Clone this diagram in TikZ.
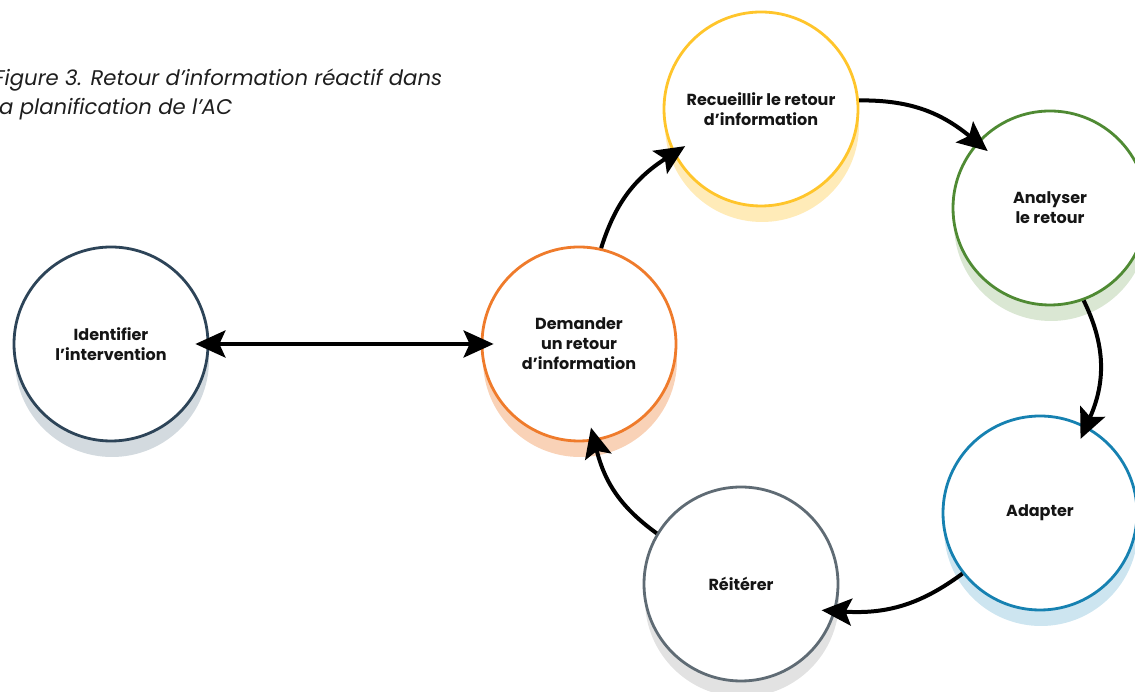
\documentclass[tikz,border=0pt]{standalone}
\usepackage{fontspec}
\setmainfont{Poppins}
\usetikzlibrary{arrows.meta,shadows}

\definecolor{identcol}{HTML}{2D4458}
\definecolor{identsh}{HTML}{D3DADF}
\definecolor{demandcol}{HTML}{EF7B2B}
\definecolor{demandsh}{HTML}{F9D2B7}
\definecolor{recueilcol}{HTML}{FFC52B}
\definecolor{recueilsh}{HTML}{FFEBB8}
\definecolor{analyscol}{HTML}{4F8A33}
\definecolor{analyssh}{HTML}{DAE7D3}
\definecolor{adaptcol}{HTML}{1681B1}
\definecolor{adaptsh}{HTML}{CDE5F0}
\definecolor{reitcol}{HTML}{5F6B74}
\definecolor{reitsh}{HTML}{E2E2E2}
\definecolor{textcol}{HTML}{151515}
\definecolor{captioncol}{HTML}{1E1E1E}

\begin{document}
\begin{tikzpicture}
      [x = 1pt, y = 1pt, line width = 4pt,
       stepnode/.style 2 args = {circle, draw = #1, fill = white, line width = 2.8pt,
         minimum size = 194pt, inner sep = 0pt, align = center, text = textcol,
         font = \fontsize{16}{20}\selectfont\bfseries,
         drop shadow = {shadow xshift = 1pt, shadow yshift = -16pt, fill = #2, opacity = 1}},
       link/.style = {-{Stealth[length = 30pt, width = 27pt, inset = 6pt]},
         shorten > = -14pt, bend left = 20}]
      \clip (0,0) rectangle (1135,692);
      % caption, cut at the left edge
      \node[anchor = base west, align = left, inner sep = 0pt, text = captioncol,
        font = \fontsize{21.2}{29}\selectfont\itshape] (caption) at (-8, 577)
        {Figure 3. Retour d’information réactif dans\\la planification de l’AC};
      \node[stepnode = {identcol}{identsh}] (ident) at (111, 348) {Identifier\\l’intervention};
      \node[stepnode = {demandcol}{demandsh}] (demand) at (579, 348) {Demander\\un retour\\d’information};
      \node[stepnode = {recueilcol}{recueilsh}] (recueil) at (761, 583) {Recueillir le retour\\d’information};
      \node[stepnode = {analyscol}{analyssh}] (analys) at (1050, 484) {Analyser\\le retour};
      \node[stepnode = {adaptcol}{adaptsh}] (adapt) at (1040, 179) {Adapter};
      \node[stepnode = {reitcol}{reitsh}] (reit) at (741, 108) {Réitérer};
      \draw[{Stealth[length = 30pt, width = 27pt, inset = 6pt]}-{Stealth[length = 30pt, width = 27pt, inset = 6pt]},
        shorten < = -14pt, shorten > = -13pt] (ident) -- (demand);
      \draw[link] (demand.77) to (recueil.207);
      \draw[link] (recueil.5) to (analys.138);
      \draw[link, bend left = 25] (analys.290) to (adapt.62);
      \draw[link] (adapt.218) to (reit.-16);
      \draw[link] (reit.149) to (demand.-81);
      \end{tikzpicture}
\end{document}
